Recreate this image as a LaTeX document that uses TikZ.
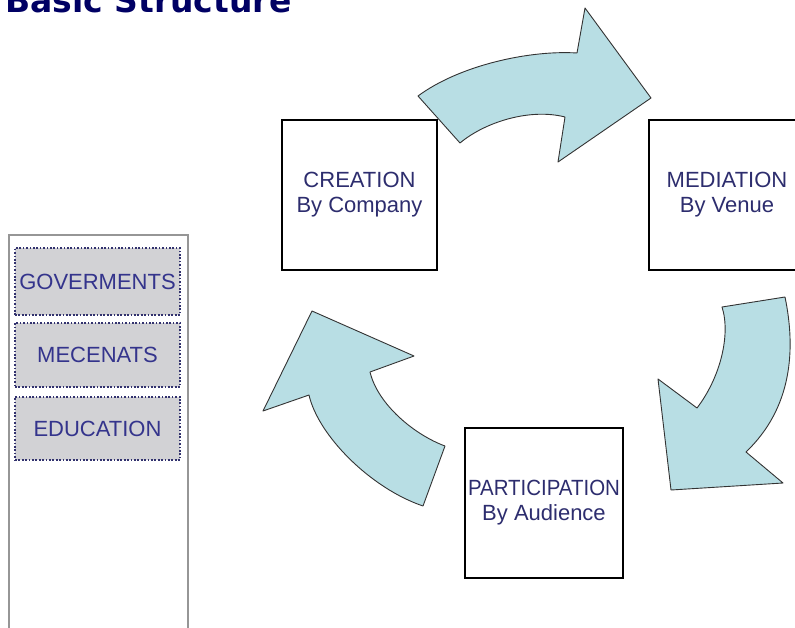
\documentclass[tikz,border=0pt]{standalone}
\usepackage{fontspec}
\usepackage{graphicx}
\setmainfont{Liberation Sans}
\newfontfamily\headfont{DejaVu Sans}

\definecolor{arrowfill}{RGB}{184,222,228}
\definecolor{boxtext}{RGB}{45,45,110}
\definecolor{paneltext}{RGB}{52,52,140}
\definecolor{titleblue}{RGB}{0,0,100}
\definecolor{tagfill}{RGB}{210,210,213}
\definecolor{tagline}{RGB}{50,50,110}
\definecolor{panelline}{RGB}{150,150,150}

\begin{document}
\begin{tikzpicture}[x=1pt,y=-1pt,
  stagebox/.style={draw=black, line width=1.8pt, fill=white, align=center,
    text=boxtext, inner sep=0pt, minimum height=150pt,
    font=\fontsize{22}{25}\selectfont},
  tagbox/.style={draw=tagline, fill=tagfill, line width=1.7pt,
    dash pattern=on 1.7pt off 1.7pt, text=paneltext, inner sep=0pt,
    minimum width=165pt, font=\fontsize{22}{25}\selectfont},
  bigarrow/.style={draw=black!80, line width=0.9pt, fill=arrowfill,
    line join=round}]
\useasboundingbox (0,0) rectangle (795,628);

% heading
\node[anchor=base west, inner sep=0pt, text=titleblue,
  font=\headfont\bfseries\fontsize{33}{33}\selectfont] (title) at (5,13) {Basic Structure};

% side panel with the supporting actors
\draw[panelline, line width=1.2pt] (9,235) rectangle (188,640);
\node[tagbox, minimum height=67pt] (gov) at (97.5,281.5) {GOVERMENTS};
\node[tagbox, minimum height=64pt] (mec) at (97.5,355) {MECENATS};
\node[tagbox, minimum height=63pt] (edu) at (97.5,428.5) {EDUCATION};

% the three stages of the cycle
\node[stagebox, minimum width=155pt] (creation) at (359.5,195) {CREATION\\By Company};
\node[stagebox, minimum width=156pt] (mediation) at (727,195) {MEDIATION\\By Venue};
\node[stagebox, minimum width=158pt] (participation) at (544,503)
  {\scalebox{0.93}[1]{PARTICIPATION}\\By Audience};

% curved block arrows between the stages
\draw[bigarrow] (418,96) .. controls (460,65) and (530,50) .. (577,53)
  -- (585,8) -- (651,98) -- (558,162) -- (565,117)
  .. controls (530,108) and (485,122) .. (460,143) -- cycle;

\draw[bigarrow] (722,307) -- (785,297)
  .. controls (796,350) and (792,408) .. (746,452)
  -- (783,483) -- (671,490) -- (658,379) -- (697,408)
  .. controls (720,378) and (731,335) .. (722,307) -- cycle;

\draw[bigarrow] (423,506) -- (445,446)
  .. controls (415,435) and (378,405) .. (370,372)
  -- (414,356) -- (312,311) -- (263,411) -- (309,395)
  .. controls (318,435) and (370,488) .. (423,506) -- cycle;
\end{tikzpicture}
\end{document}
